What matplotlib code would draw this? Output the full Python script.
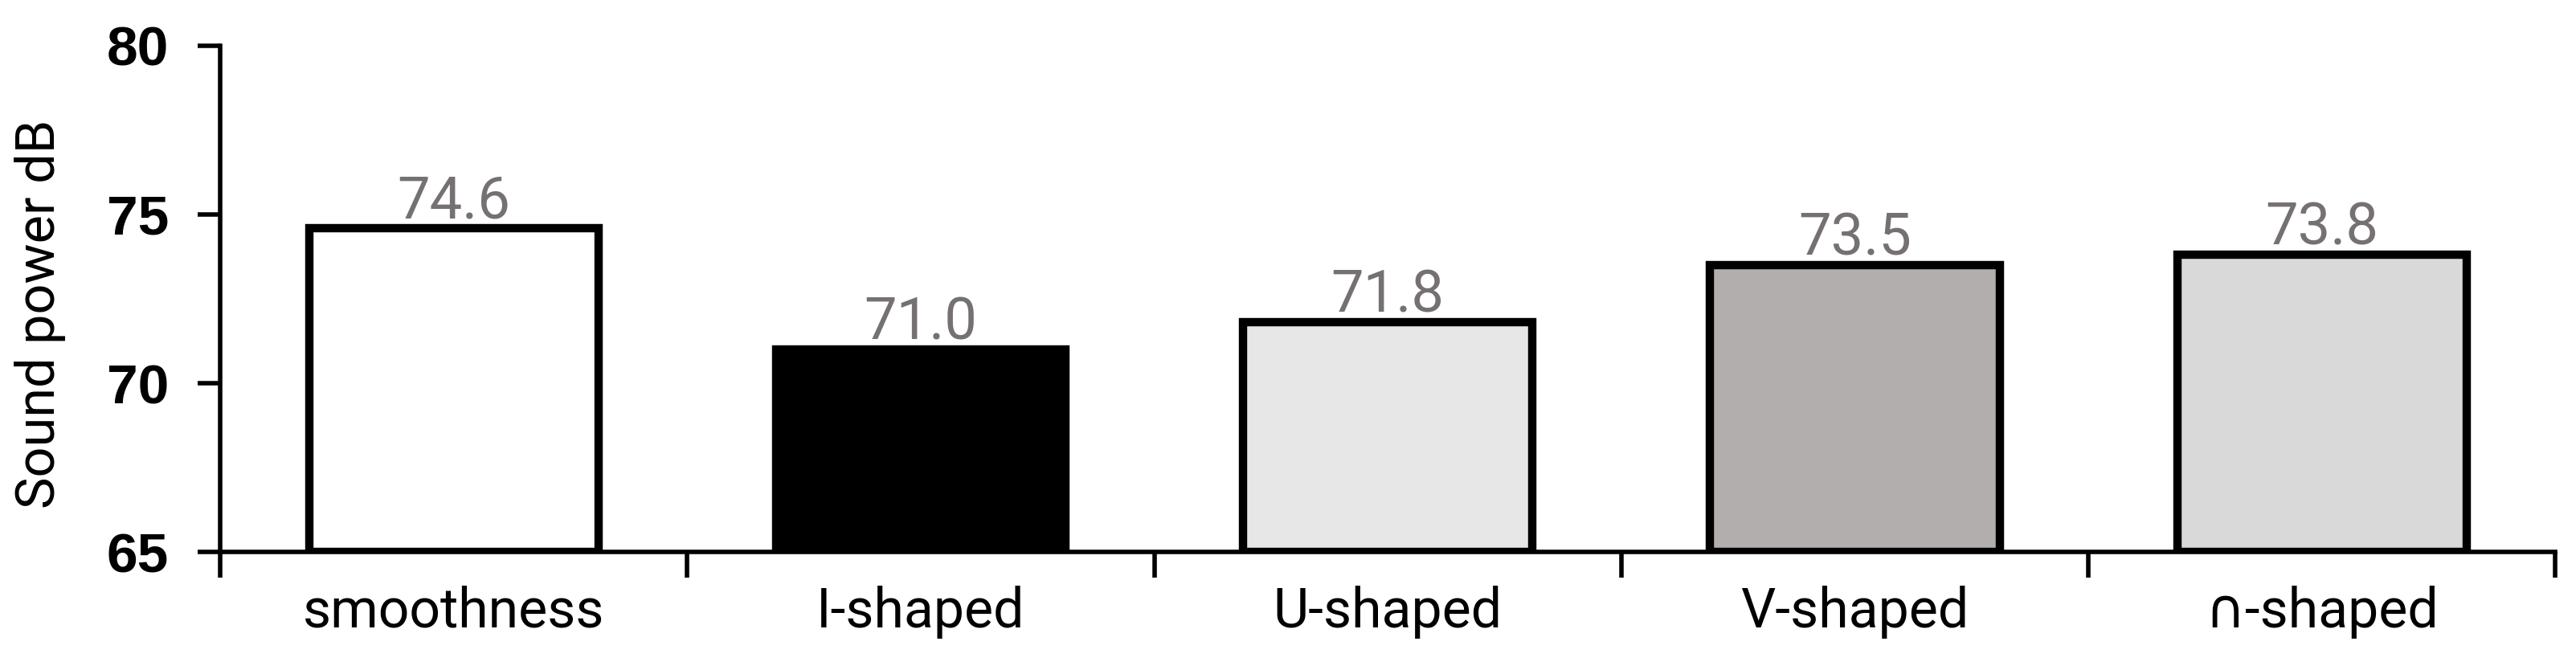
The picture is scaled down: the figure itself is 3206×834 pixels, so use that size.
"""
Sound power bar chart
"""
import numpy as np
import matplotlib.pyplot as plt
from matplotlib.ticker import FixedLocator

categories = ['smoothness', 'I-shaped', 'U-shaped', 'V-shaped', '∩-shaped']
values = [74.6, 71.0, 71.8, 73.5, 73.8]
bar_colors = ['#ffffff', '#000000', '#e7e7e7', '#b1aead', '#d9d9d9']
y_ticks = [65, 70, 75, 80]

narrow = ['Roboto', 'DejaVu Sans']

fig = plt.figure(figsize=(32.06, 8.34), dpi=100)
ax = fig.add_axes([0.0855, 0.176, 0.9065, 0.756])

x = np.arange(len(categories))
heights = [v - 65 for v in values]
ax.bar(x, heights, width=0.62, bottom=65, color=bar_colors,
       edgecolor='black', linewidth=7.5)

for xi, v in zip(x, values):
    ax.annotate(f'{v:.1f}', (xi, v), xytext=(0, 9), textcoords='offset points',
                ha='center', va='baseline', color='#767171', fontsize=52,
                family=narrow)

ax.set_xlim(-0.5, len(categories) - 0.5)
ax.set_ylim(65, 80)
ax.set_yticks(y_ticks)
ax.set_yticklabels([str(t) for t in y_ticks], fontsize=50, fontweight='bold',
                   family='Liberation Sans')
ax.set_xticks(x)
ax.set_xticklabels(categories, fontsize=49, family=narrow)
ax.xaxis.set_minor_locator(FixedLocator(np.arange(len(categories) + 1) - 0.5))
ax.tick_params(axis='x', which='major', length=0, pad=30)
ax.tick_params(axis='x', which='minor', length=23, width=4, direction='out')
ax.tick_params(axis='y', length=20, width=4, direction='out', pad=26)

for s in ['top', 'right']:
    ax.spines[s].set_visible(False)
for s in ['left', 'bottom']:
    ax.spines[s].set_linewidth(4)

ax.set_ylabel('Sound power dB', fontsize=48, family=narrow)
ax.yaxis.set_label_coords(-0.066, 0.47)

fig.savefig('out.png', dpi=100)
